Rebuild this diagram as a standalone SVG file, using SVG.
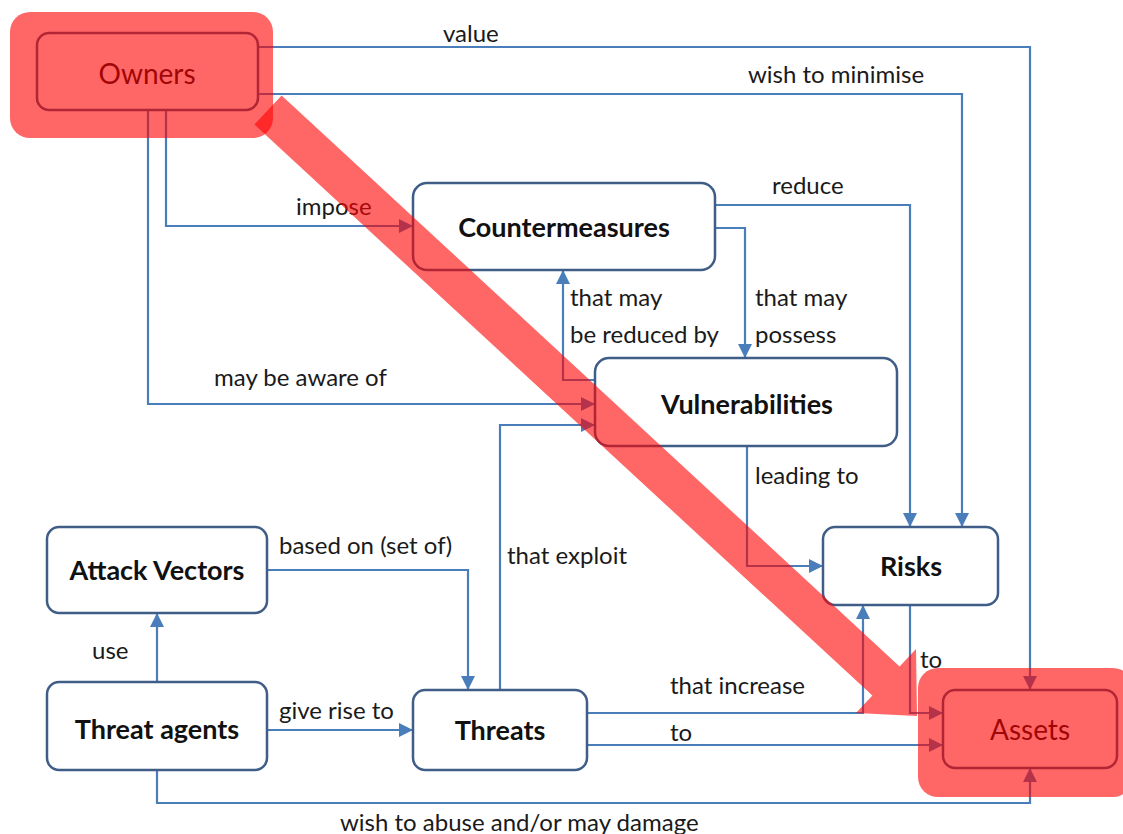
<svg xmlns="http://www.w3.org/2000/svg" width="1123" height="834" viewBox="0 0 1123 834">
<defs>
<style>
.node{fill:#ffffff;stroke:#3f5d86;stroke-width:2.5}
.nt{font-family:Lato,"Open Sans","Liberation Sans",sans-serif;font-size:27px;font-weight:bold;fill:#111111;text-anchor:middle}
.nr{font-weight:normal;font-size:28px}
.lb{font-family:Lato,"Open Sans","Liberation Sans",sans-serif;font-size:24px;fill:#1a1a1a}
.c{fill:none;stroke:#4a7ebb;stroke-width:2.2;marker-end:url(#ah)}
.hl{fill:#ff0000;fill-opacity:0.6}
</style>
<marker id="ah" viewBox="0 0 14 14" refX="13" refY="7" markerWidth="14" markerHeight="14" markerUnits="userSpaceOnUse" orient="auto">
<path d="M0,0 L14,7 L0,14 z" fill="#4a7ebb"/>
</marker>
</defs>
<rect width="1123" height="834" fill="#ffffff"/>
<g id="connectors">
<path class="c" d="M258,47 H1030 V689"/>
<path class="c" d="M258,94 H962 V526"/>
<path class="c" d="M148,110 V404 H594"/>
<path class="c" d="M166,110 V226 H412"/>
<path class="c" d="M715,205 H910 V526"/>
<path class="c" d="M715,228 H745 V357"/>
<path class="c" d="M595,380 H563 V271"/>
<path class="c" d="M747,446 V566 H822"/>
<path class="c" d="M910,605 V713 H942"/>
<path class="c" d="M587,713 H863 V606"/>
<path class="c" d="M587,745 H942"/>
<path class="c" d="M500,690 V425 H594"/>
<path class="c" d="M267,570 H468 V689"/>
<path class="c" d="M157,682 V614"/>
<path class="c" d="M267,730 H412"/>
<path class="c" d="M157,770 V803 H1030 V769"/>
</g>
<g id="labels">
<text class="lb" x="443" y="42">value</text>
<text class="lb" x="748" y="83">wish to minimise</text>
<text class="lb" x="296" y="215">impose</text>
<text class="lb" x="772" y="194">reduce</text>
<text class="lb" x="214" y="386">may be aware of</text>
<text class="lb" x="570" y="306">that may</text>
<text class="lb" x="570" y="343">be reduced by</text>
<text class="lb" x="755" y="306">that may</text>
<text class="lb" x="755" y="343">possess</text>
<text class="lb" x="755" y="484">leading to</text>
<text class="lb" x="279" y="554">based on (set of)</text>
<text class="lb" x="507" y="564">that exploit</text>
<text class="lb" x="92" y="659">use</text>
<text class="lb" x="279" y="719">give rise to</text>
<text class="lb" x="670" y="694">that increase</text>
<text class="lb" x="670" y="741">to</text>
<text class="lb" x="920" y="668">to</text>
<text class="lb" x="340" y="831">wish to abuse and/or may damage</text>
</g>
<g id="owners">
<rect class="node" x="37" y="33" width="221" height="77" rx="12"/>
<text class="nt nr" x="147" y="84">Owners</text>
</g>
<g id="countermeasures">
<rect class="node" x="413" y="183" width="302" height="87" rx="14"/>
<text class="nt" x="564" y="237">Countermeasures</text>
</g>
<g id="vulnerabilities">
<rect class="node" x="595" y="358" width="302" height="88" rx="14"/>
<text class="nt" x="747" y="414">Vulnerabilities</text>
</g>
<g id="risks">
<rect class="node" x="823" y="527" width="175" height="78" rx="12"/>
<text class="nt" x="911" y="576">Risks</text>
</g>
<g id="attack-vectors">
<rect class="node" x="47" y="527" width="220" height="86" rx="12"/>
<text class="nt" x="157" y="580">Attack Vectors</text>
</g>
<g id="threat-agents">
<rect class="node" x="47" y="682" width="220" height="88" rx="12"/>
<text class="nt" x="157" y="739">Threat agents</text>
</g>
<g id="threats">
<rect class="node" x="413" y="690" width="174" height="80" rx="12"/>
<text class="nt" x="500" y="740">Threats</text>
</g>
<g id="assets">
<rect class="node" x="943" y="690" width="174" height="78" rx="12"/>
<text class="nt nr" x="1030" y="740">Assets</text>
</g>
<g id="highlights">
<rect class="hl" x="10" y="12" width="263" height="126" rx="20"/>
<rect class="hl" x="918" y="668" width="215" height="129" rx="20"/>
<polygon class="hl" points="281.6,95.4 899.6,666.4 916,649 917,716 856,713 872.4,695.6 254.4,124.6"/>
</g>
</svg>
